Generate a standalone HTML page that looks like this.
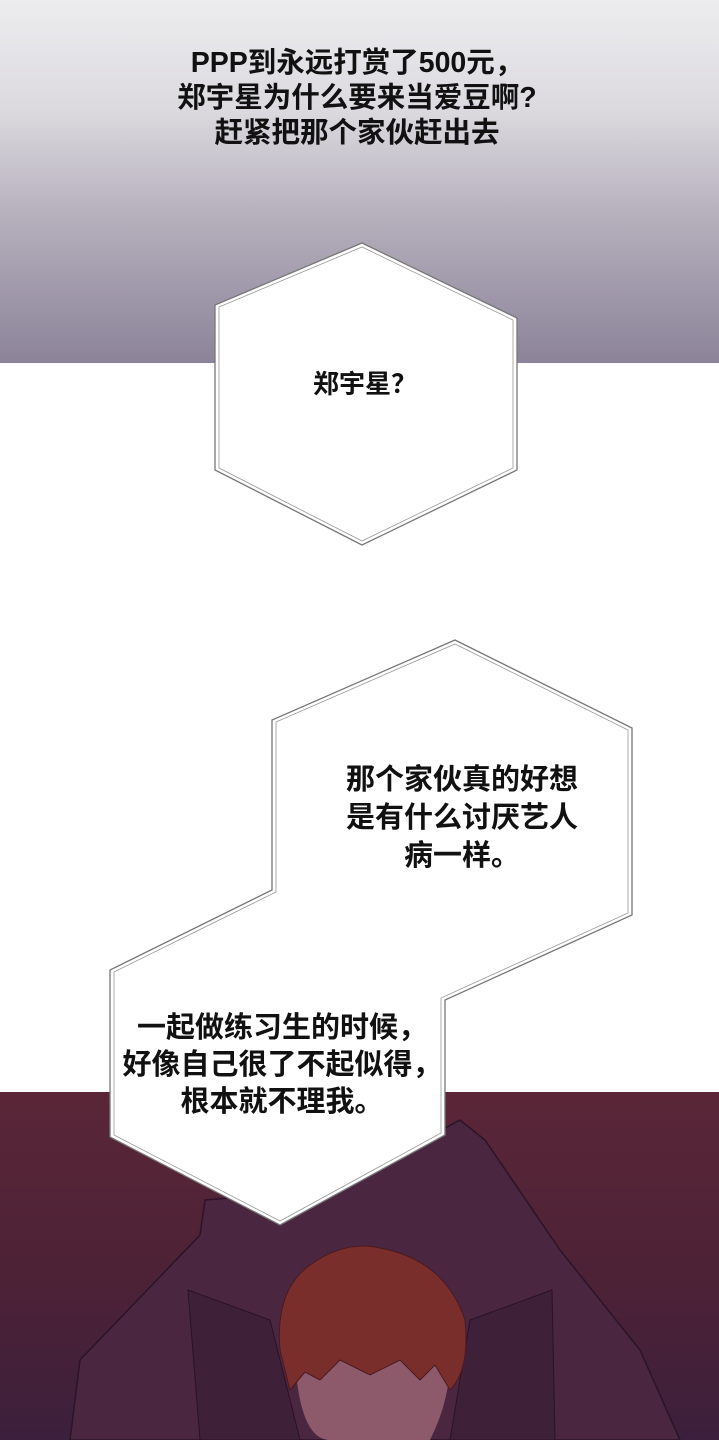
<!DOCTYPE html>
<html><head><meta charset="utf-8"><style>
html,body{margin:0;padding:0;width:719px;height:1440px;overflow:hidden;background:#fff;position:relative;font-family:"Liberation Sans","Noto Sans CJK SC",sans-serif}
.top{position:absolute;left:0;top:0;width:719px;height:363px;background:linear-gradient(#ececee 0%,#dcdadf 30%,#b5afbc 60%,#8c8399 100%)}
.bot{position:absolute;left:0;top:1092px;width:719px;height:348px;background:linear-gradient(#5a2638 0%,#4e2236 50%,#3c1f3c 100%)}
.t{position:absolute;text-align:center;font-weight:bold;white-space:nowrap}
</style></head><body>
<div class="top"></div>
<div class="bot"></div>
<svg width="719" height="1440" style="position:absolute;left:0;top:0">
 <polygon points="70,1440 80,1360 200,1235 205,1200 330,1190 460,1120 485,1140 560,1250 640,1350 680,1440" fill="#4a2640" stroke="#2c1428" stroke-width="1.5"/>
 <polygon points="188,1290 270,1320 300,1440 200,1440" fill="#3e2038" stroke="#2a1226"/>
 <polygon points="470,1320 552,1290 555,1440 450,1440" fill="#3e2038" stroke="#2a1226"/>
 <path d="M295,1360 Q300,1440 330,1440 L430,1440 Q450,1400 450,1360 Z" fill="#8c5a6a"/>
 <path d="M280,1350 Q275,1290 310,1265 Q345,1240 380,1248 Q445,1260 465,1320 Q470,1370 450,1390 L435,1365 L420,1380 L400,1360 L370,1375 L340,1360 L320,1380 L305,1372 L290,1390 Z" fill="#7a2e2c" stroke="#4a1a20" stroke-width="1"/>
 <polygon points="362,243 517,318 517,470 362,545 215,470 215,305" fill="#fff" stroke="#777" stroke-width="1.3"/>
 <polygon points="362,247 513,320 513,468 362,541 219,468 219,307" fill="none" stroke="#999" stroke-width="0.8"/>
 <polygon points="455,640 632,728 632,915 445,1000 445,1135 280,1225 110,1137 110,970 272,890 272,720" fill="#fff" stroke="#777" stroke-width="1.3"/>
 <polygon points="455,644 628,730 628,913 441,998 441,1133 280,1221 114,1135 114,972 276,892 276,722" fill="none" stroke="#999" stroke-width="0.8"/>
</svg>
<div class="t" style="left:0;width:714px;top:46px;font-size:28.5px;line-height:35px;color:#111">PPP到永远打赏了500元，<br>郑宇星为什么要来当爱豆啊?<br>赶紧把那个家伙赶出去</div>
<div class="t" style="left:265px;width:200px;top:368px;font-size:26px;line-height:32px;color:#111">郑宇星？</div>
<div class="t" style="left:312px;width:300px;top:761px;font-size:29px;line-height:38px;color:#111">那个家伙真的好想<br>是有什么讨厌艺人<br>病一样。</div>
<div class="t" style="left:97px;width:370px;top:1010px;font-size:29px;line-height:37px;color:#111">一起做练习生的时候，<br>好像自己很了不起似得，<br>根本就不理我。</div>
</body></html>
